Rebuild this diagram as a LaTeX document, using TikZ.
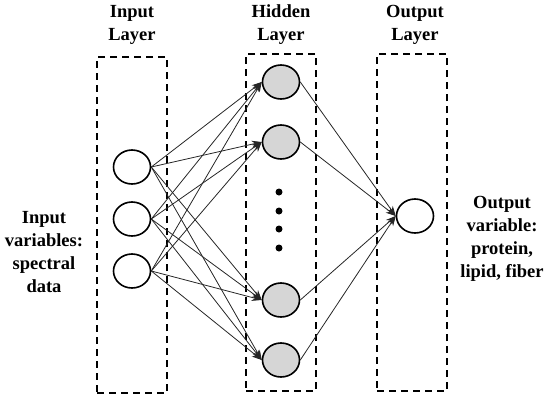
\documentclass[tikz,border=0pt]{standalone}
\usepackage{fontspec}
\setmainfont{Liberation Serif}
\usetikzlibrary{arrows.meta,shapes.geometric}
\begin{document}
\begin{tikzpicture}[x=1pt,y=-1pt,
  layerbox/.style={draw,line width=1.8pt,dash pattern=on 7pt off 5pt},
  innode/.style={draw,line width=1.6pt,ellipse,minimum width=37pt,minimum height=34pt,inner sep=0pt},
  hidnode/.style={innode,fill=black!16},
  conn/.style={draw=black!85,line width=0.8pt,-{Stealth[length=10pt,width=7pt]}},
  lbl/.style={font=\fontsize{18.5}{23}\selectfont\bfseries,align=center},
  dotn/.style={circle,fill=black,inner sep=0pt,minimum size=7pt}]
\useasboundingbox (0,0) rectangle (550,400);
\node[layerbox,minimum width=70pt,minimum height=336pt] (ibox) at (132,225) {};
\node[layerbox,minimum width=70pt,minimum height=337pt] (hbox) at (281,222.5) {};
\node[layerbox,minimum width=70pt,minimum height=337pt] (obox) at (412,222.5) {};
\node[lbl] (lin) at (132,25) {Input\\Layer};
\node[lbl] (lhid) at (281,25) {Hidden\\Layer};
\node[lbl] (lout) at (415,25) {Output\\Layer};
\node[lbl] (ivar) at (44,252) {Input\\variables:\\spectral\\data};
\node[lbl] (ovar) at (502,239) {Output\\variable:\\protein,\\lipid, fiber};
\node[innode] (i1) at (132,167) {};
\node[innode] (i2) at (132,219) {};
\node[innode] (i3) at (132,271) {};
\node[hidnode] (h1) at (281,82) {};
\node[hidnode] (h2) at (281,142) {};
\node[hidnode] (h3) at (281,300) {};
\node[hidnode] (h4) at (281,360) {};
\node[innode] (o) at (415,216) {};
\node[dotn] (d1) at (279,192) {};
\node[dotn] (d2) at (279,211) {};
\node[dotn] (d3) at (279,229) {};
\node[dotn] (d4) at (279,248) {};
\foreach \i in {i1,i2,i3}
  \foreach \h in {h1,h2,h3,h4}
    \draw[conn] (\i.east) -- (\h.west);
\foreach \h in {h1,h2,h3,h4}
  \draw[conn] (\h.east) -- (o.west);
\end{tikzpicture}
\end{document}
